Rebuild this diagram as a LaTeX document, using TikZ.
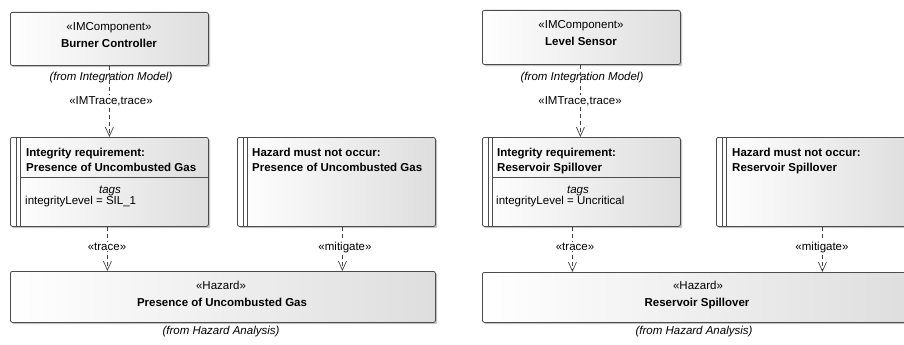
\documentclass[tikz,border=0pt]{standalone}
\usepackage{fontspec}
\setmainfont{Liberation Sans}
\usetikzlibrary{arrows.meta,shadows}
\newcommand{\dfs}{\fontsize{11.5}{13}\selectfont}
\tikzset{
  umlbox/.style={draw=black!70, line width=0.8pt, rounded corners=2pt,
    left color=white, right color=black!13,
    drop shadow={shadow xshift=1.8pt, shadow yshift=-1.8pt, fill=black!45, opacity=0.5},
    anchor=north west, inner sep=0pt},
  txt/.style={font=\dfs, inner sep=0pt, anchor=base},
  txtb/.style={txt, font=\dfs\bfseries},
  txti/.style={txt, font=\dfs\itshape},
  txtl/.style={txt, anchor=base west},
  txtbl/.style={txtb, anchor=base west},
  deplbl/.style={txt, fill=white, inner sep=1pt},
  dline/.style={draw=black!70, line width=0.7pt},
  dep/.style={draw=black!75, line width=0.7pt, dash pattern=on 4pt off 3pt,
    -{Straight Barb[length=9pt,width=8pt,line width=0.7pt]}},
}
\begin{document}
\begin{tikzpicture}[x=1pt,y=-1pt]
\useasboundingbox (0,0) rectangle (904,345);
\clip (0,0) rectangle (904,345);

% ---------- left group ----------
\node[umlbox, minimum width=198pt, minimum height=53pt] (bc) at (10,12) {};
\node[txt] (bcs) at (109,31) {«IMComponent»};
\node[txtb] (bcn) at (109,48) {Burner Controller};

\node[umlbox, minimum width=198pt, minimum height=89pt] (ir1) at (10,137) {};
\draw[dline] ([xshift=6.5pt]ir1.north west) -- ([xshift=6.5pt]ir1.south west);
\draw[dline] ([xshift=10.5pt]ir1.north west) -- ([xshift=10.5pt]ir1.south west);
\draw[dline] ([xshift=10.5pt,yshift=-40pt]ir1.north west) -- ([yshift=-40pt]ir1.north east);
\node[txtbl] (ir1a) at (26,156) {Integrity requirement:};
\node[txtbl] (ir1b) at (26,171.5) {Presence of Uncombusted Gas};
\node[txti] (ir1t) at (110,193) {tags};
\node[txtl] (ir1v) at (25,204.5) {integrityLevel = SIL\_1};

\node[umlbox, minimum width=198pt, minimum height=89pt] (hm1) at (237,137) {};
\draw[dline] ([xshift=6.5pt]hm1.north west) -- ([xshift=6.5pt]hm1.south west);
\draw[dline] ([xshift=10.5pt]hm1.north west) -- ([xshift=10.5pt]hm1.south west);
\node[txtbl] (hm1a) at (252,156) {Hazard must not occur:};
\node[txtbl] (hm1b) at (252,171.5) {Presence of Uncombusted Gas};

\node[umlbox, minimum width=425pt, minimum height=51pt] (hz1) at (10,271) {};
\node[txt] (hz1s) at (221,289) {«Hazard»};
\node[txtb] (hz1n) at (222,306) {Presence of Uncombusted Gas};
\node[txti] (hz1f) at (221,334) {(from Hazard Analysis)};

\node[txti] (bcf) at (111,81) {(from Integration Model)};
\draw[dep] (bc.south) -- (ir1.north);
\node[deplbl] (l1) at (111,104) {«IMTrace,trace»};
\draw[dep] ([xshift=-2pt]ir1.south) -- ([xshift=-2pt]ir1.south |- hz1.north);
\node[deplbl] (l2) at (107,250) {«trace»};
\draw[dep] ([xshift=6pt]hm1.south) -- ([xshift=6pt]hm1.south |- hz1.north);
\node[deplbl] (l3) at (345,250) {«mitigate»};

% ---------- right group ----------
\node[umlbox, minimum width=198pt, minimum height=54pt] (ls) at (482,10) {};
\node[txt] (lss) at (581,29) {«IMComponent»};
\node[txtb] (lsn) at (581,46) {Level Sensor};

\node[umlbox, minimum width=198pt, minimum height=89pt] (ir2) at (482,137) {};
\draw[dline] ([xshift=6.5pt]ir2.north west) -- ([xshift=6.5pt]ir2.south west);
\draw[dline] ([xshift=10.5pt]ir2.north west) -- ([xshift=10.5pt]ir2.south west);
\draw[dline] ([xshift=10.5pt,yshift=-40pt]ir2.north west) -- ([yshift=-40pt]ir2.north east);
\node[txtbl] (ir2a) at (497,156) {Integrity requirement:};
\node[txtbl] (ir2b) at (497,171.5) {Reservoir Spillover};
\node[txti] (ir2t) at (578,193) {tags};
\node[txtl] (ir2v) at (496,204.5) {integrityLevel = Uncritical};

\node[umlbox, minimum width=198pt, minimum height=89pt] (hm2) at (716,137) {};
\draw[dline] ([xshift=6.5pt]hm2.north west) -- ([xshift=6.5pt]hm2.south west);
\draw[dline] ([xshift=10.5pt]hm2.north west) -- ([xshift=10.5pt]hm2.south west);
\node[txtbl] (hm2a) at (732,156) {Hazard must not occur:};
\node[txtbl] (hm2b) at (732,171.5) {Reservoir Spillover};

\node[umlbox, minimum width=430pt, minimum height=50pt] (hz2) at (482,272) {};
\node[txt] (hz2s) at (698,289) {«Hazard»};
\node[txtb] (hz2n) at (697,306) {Reservoir Spillover};
\node[txti] (hz2f) at (694,334) {(from Hazard Analysis)};

\node[txti] (lsf) at (582,81) {(from Integration Model)};
\draw[dep] ([xshift=-1pt]ls.south) -- ([xshift=-1pt]ls.south |- ir2.north);
\node[deplbl] (r1) at (580,104) {«IMTrace,trace»};
\draw[dep] ([xshift=-9pt]ir2.south) -- ([xshift=-9pt]ir2.south |- hz2.north);
\node[deplbl] (r2) at (575,250) {«trace»};
\draw[dep] ([xshift=7pt]hm2.south) -- ([xshift=7pt]hm2.south |- hz2.north);
\node[deplbl] (r3) at (822,250) {«mitigate»};
\end{tikzpicture}
\end{document}
